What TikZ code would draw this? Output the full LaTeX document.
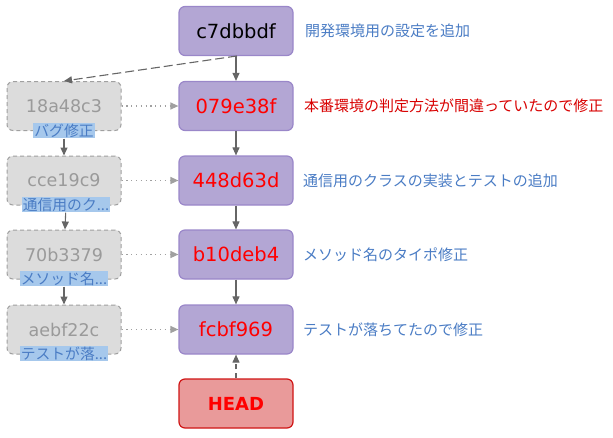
\documentclass[tikz,border=0pt]{standalone}
\usepackage{fontspec}
\newfontfamily\jp{Noto Sans CJK JP}
\newfontfamily\hashfont{DejaVu Sans}
\usetikzlibrary{arrows.meta}
\definecolor{mfill}{HTML}{B3A6D4}
\definecolor{mdraw}{HTML}{9A87C9}
\definecolor{lfill}{HTML}{DCDCDC}
\definecolor{ldraw}{HTML}{A0A0A0}
\definecolor{ltext}{HTML}{9A9A9A}
\definecolor{hfill}{HTML}{E99A9A}
\definecolor{hdraw}{HTML}{D01515}
\definecolor{hred}{HTML}{FF0000}
\definecolor{lblue}{HTML}{4A7CC4}
\definecolor{hlbg}{HTML}{A6C8EC}
\definecolor{rred}{HTML}{D80000}
\definecolor{agray}{HTML}{666666}
\tikzset{
  mainbox/.style={draw=mdraw, fill=mfill, line width=1.2pt, rounded corners=6pt,
    minimum width=114pt, minimum height=49pt, inner sep=0pt,
    font=\hashfont\fontsize{19.5}{22}\selectfont, text=hred},
  leftbox/.style={draw=ldraw, fill=lfill, line width=1pt, dashed, dash pattern=on 4pt off 3pt,
    rounded corners=6pt, minimum width=114pt, minimum height=49pt, inner sep=0pt,
    font=\hashfont\fontsize{17.5}{20}\selectfont, text=ltext},
  headbox/.style={draw=hdraw, fill=hfill, line width=1.2pt, rounded corners=6pt,
    minimum width=114pt, minimum height=49pt, inner sep=0pt,
    font=\hashfont\bfseries\fontsize{18}{20}\selectfont, text=hred},
  sublabel/.style={fill=hlbg, text=lblue, inner xsep=1pt, inner ysep=1pt,
    font=\jp\fontsize{14.8}{15}\selectfont},
  msg/.style={anchor=west, inner sep=0pt, text=lblue, font=\jp\fontsize{15}{17}\selectfont},
  arr/.style={draw=agray, line width=1.1pt, -{Triangle[length=8pt,width=7pt]}},
  dotarr/.style={draw=ldraw, line width=1.3pt, dash pattern=on 1.2pt off 3.6pt,
    -{Triangle[length=8pt,width=7pt]}},
}
\begin{document}
\begin{tikzpicture}[x=1pt,y=-1pt]
\useasboundingbox (0,0) rectangle (613,437);
% main column
\node[mainbox, text=black] (c7) at (236,31) {c7dbbdf};
\node[mainbox] (m1) at (236,106) {079e38f};
\node[mainbox] (m2) at (236,180.5) {448d63d};
\node[mainbox] (m3) at (236,254.5) {b10deb4};
\node[mainbox] (m4) at (236,329.5) {fcbf969};
\node[headbox] (head) at (236,403.5) {HEAD};
% left column
\node[leftbox] (l1) at (64,106) {18a48c3};
\node[leftbox] (l2) at (64,180.5) {cce19c9};
\node[leftbox] (l3) at (64,254.5) {70b3379};
\node[leftbox] (l4) at (64,329.5) {aebf22c};
\node[sublabel] (s1) at (64,130.5) {バグ修正};
\node[sublabel] (s2) at (66,204.5) {通信用のク...};
\node[sublabel] (s3) at (64,278.5) {メソッド名...};
\node[sublabel] (s4) at (64,353.5) {テストが落...};
% messages
\node[msg] (t0) at (305,31) {開発環境用の設定を追加};
\node[msg, text=rred] (t1) at (304,106) {本番環境の判定方法が間違っていたので修正};
\node[msg] (t2) at (303,180.5) {通信用のクラスの実装とテストの追加};
\node[msg] (t3) at (303,254.5) {メソッド名のタイポ修正};
\node[msg] (t4) at (303,329.5) {テストが落ちてたので修正};
% arrows main
\draw[arr] (c7) -- (m1);
\draw[arr] (m1) -- (m2);
\draw[arr] (m2) -- (m3);
\draw[arr] (m3) -- (m4);
\draw[arr, dash pattern=on 5pt off 4pt] (head) -- (m4);
\draw[arr, dash pattern=on 9pt off 4pt, shorten <=-1pt] (c7.south) -- (l1.north);
% left arrows
\draw[arr] (s1) -- (l2);
\draw[arr] (s2) -- (l3);
\draw[arr] (s3) -- (l4);
% dotted
\draw[dotarr] (l1) -- (m1);
\draw[dotarr] (l2) -- (m2);
\draw[dotarr] (l3) -- (m3);
\draw[dotarr] (l4) -- (m4);
\end{tikzpicture}
\end{document}
